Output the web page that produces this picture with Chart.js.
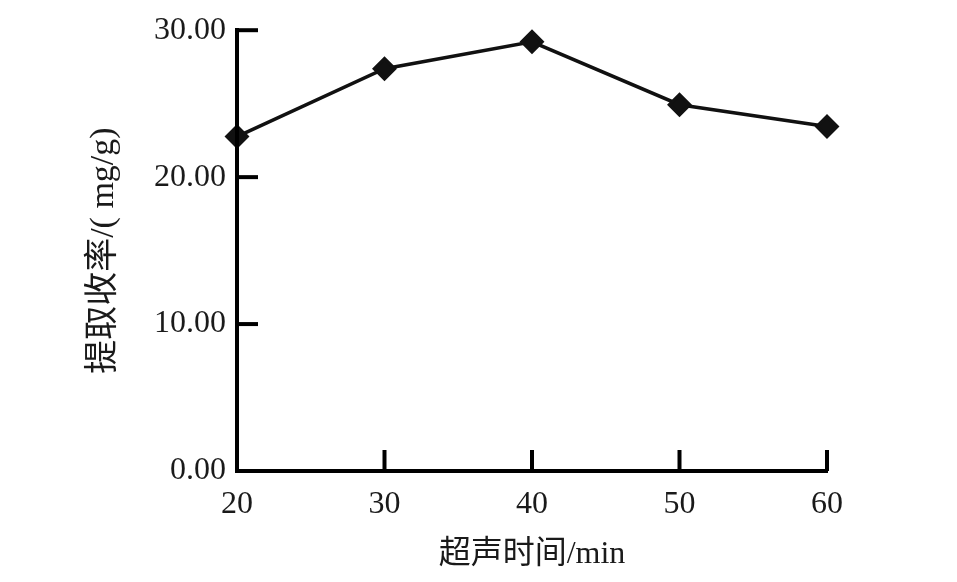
<!DOCTYPE html>
<html>
<head>
<meta charset="utf-8">
<script src="https://cdn.jsdelivr.net/npm/chart.js@4.4.1/dist/chart.umd.min.js"></script>
<style>
  html, body { margin: 0; padding: 0; background: #fff; }
  #box { width: 957px; height: 582px; }
</style>
</head>
<body>
<div id="box"><canvas id="yieldChart" width="957" height="582"></canvas></div>
<script>
// ultrasonic time (min) and extraction yield (mg/g)
const times = [20, 30, 40, 50, 60];
const yields = [22.76, 27.38, 29.21, 24.93, 23.44];
const xTicks = [20, 30, 40, 50, 60];
const yTicks = [0, 10, 20, 30];

const serifFont = '"Liberation Serif", "Times New Roman", "Noto Sans CJK SC", serif';

// short tick marks drawn inward from the axes
const innerTicks = {
    id: 'innerTicks',
    afterDatasetsDraw(chart) {
        const { ctx, chartArea, scales } = chart;
        ctx.save();
        ctx.strokeStyle = '#000';
        ctx.lineWidth = 4;
        ctx.lineCap = 'butt';
        xTicks.forEach(v => {
            const x = scales.x.getPixelForValue(v);
            ctx.beginPath();
            ctx.moveTo(x, chartArea.bottom);
            ctx.lineTo(x, chartArea.bottom - 21);
            ctx.stroke();
        });
        yTicks.forEach(v => {
            const y = scales.y.getPixelForValue(v);
            ctx.beginPath();
            ctx.moveTo(chartArea.left, y);
            ctx.lineTo(chartArea.left + 21, y);
            ctx.stroke();
        });
        // keep the vertical axis as heavy as the horizontal one
        ctx.beginPath();
        ctx.moveTo(chartArea.left, chartArea.top - 2);
        ctx.lineTo(chartArea.left, chartArea.bottom + 2);
        ctx.stroke();
        ctx.restore();
    }
};

const data = {
    datasets: [{
        data: times.map((t, i) => ({ x: t, y: yields[i] })),
        borderColor: '#111',
        backgroundColor: '#111',
        borderWidth: 3.5,
        pointStyle: 'rectRot',
        pointRadius: 10,
        pointHoverRadius: 10,
        tension: 0,
        clip: false
    }]
};

const config = {
    type: 'line',
    data: data,
    plugins: [innerTicks],
    options: {
        responsive: false,
        animation: false,
        layout: {
            padding: { top: 29, right: 130, left: 0, bottom: 0 }
        },
        plugins: {
            legend: { display: false },
            tooltip: { enabled: false }
        },
        scales: {
            x: {
                type: 'linear',
                min: 20,
                max: 60,
                afterFit(scale) { scale.height = 111; },
                afterBuildTicks(scale) { scale.ticks = xTicks.map(v => ({ value: v })); },
                grid: { display: false, drawTicks: false },
                border: { display: true, color: '#000', width: 4 },
                ticks: {
                    padding: 14,
                    color: '#1a1a1a',
                    font: { family: serifFont, size: 32 }
                },
                title: {
                    display: true,
                    text: '超声时间/min',
                    color: '#1a1a1a',
                    padding: 8,
                    font: { family: serifFont, size: 32 }
                }
            },
            y: {
                min: 0,
                max: 30,
                afterFit(scale) { scale.width = 237; },
                afterBuildTicks(scale) { scale.ticks = yTicks.map(v => ({ value: v })); },
                grid: { display: false, drawTicks: false },
                border: { display: true, color: '#000', width: 4 },
                ticks: {
                    padding: 11,
                    color: '#1a1a1a',
                    font: { family: serifFont, size: 32 },
                    callback: v => v.toFixed(2)
                },
                title: {
                    display: true,
                    text: '提取收率/( mg/g)',
                    color: '#1a1a1a',
                    padding: { top: 84, bottom: 0 },
                    font: { family: serifFont, size: 34 }
                }
            }
        }
    }
};

const yieldChart = new Chart(document.getElementById('yieldChart'), config);
</script>
</body>
</html>
